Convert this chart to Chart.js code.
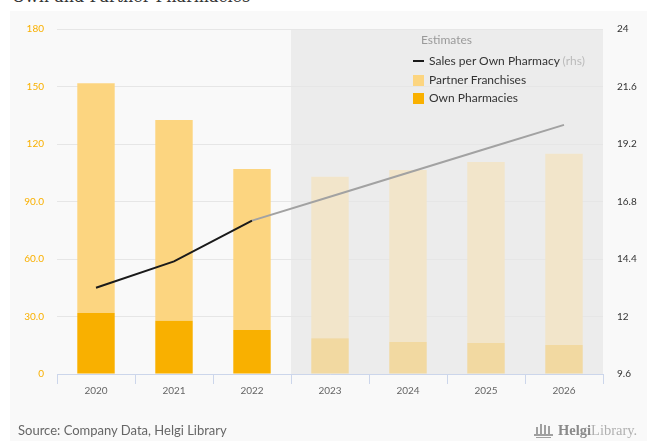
<!DOCTYPE html>
<html>
<head>
<meta charset="utf-8">
<script src="https://cdn.jsdelivr.net/npm/chart.js@4/dist/chart.umd.min.js"></script>
<style>
  html, body { margin: 0; padding: 0; background: #ffffff; }
  #page { position: relative; width: 647px; height: 441px; overflow: hidden; font-family: Lato, "Open Sans", sans-serif; }
  #panel { position: absolute; left: 10px; top: 11px; right: 0; bottom: 0; background: #f9f9f9; }
  #title { position: absolute; left: 12px; top: -11px; font: 16px "DejaVu Serif", serif; line-height: 16px; color: #333; white-space: nowrap; }
  #chart { position: absolute; left: 0; top: 0; }
  .lg { position: absolute; font-size: 12px; line-height: 14px; color: #333; white-space: nowrap; }
  .sw { position: absolute; width: 11px; height: 11px; }
  #source { position: absolute; left: 18px; top: 423px; font-size: 13px; line-height: 15px; color: #666; }
  #logo { position: absolute; left: 558px; top: 422px; font: 14.5px "Liberation Serif", serif; line-height: 16px; color: #8a8a8a; white-space: nowrap; }
  #logo b { font-weight: bold; }
  #logo span { color: #b0b0b0; }
  .ic { position: absolute; background: #a0a0a0; }
</style>
</head>
<body>
<div id="page">
  <div id="panel"></div>
  <div id="title">Own and Partner Pharmacies</div>
  <canvas id="chart" width="647" height="441"></canvas>
  <div class="lg" style="left:421px; top:33px; color:#9a9a9a;">Estimates</div>
  <div style="position:absolute; left:413px; top:60px; width:11px; height:2px; background:#1a1a1a;"></div>
  <div class="lg" style="left:429px; top:54px;" id="lg0"></div>
  <div class="sw" style="left:413px; top:75px; background:#fcd580;"></div>
  <div class="lg" style="left:429px; top:73px;" id="lg1"></div>
  <div class="sw" style="left:413px; top:93px; background:#f9b000;"></div>
  <div class="lg" style="left:429px; top:91px;" id="lg2"></div>
  <div id="source">Source: Company Data, Helgi Library</div>
  <!-- small library emblem next to the wordmark -->
  <div class="ic" style="left:536px; top:427px; width:2px; height:7px;"></div>
  <div class="ic" style="left:540px; top:424px; width:2px; height:10px;"></div>
  <div class="ic" style="left:544px; top:425px; width:2px; height:9px;"></div>
  <div class="ic" style="left:548px; top:426px; width:2px; height:8px;"></div>
  <div class="ic" style="left:534px; top:434px; width:19px; height:2px;"></div>
  <div class="ic" style="left:536px; top:437px; width:15px; height:1px;"></div>
  <div id="logo"><b>Helgi</b><span>Library.</span></div>
</div>
<script>
// Categories and series
const years = ['2020', '2021', '2022', '2023', '2024', '2025', '2026'];
const ownPharmacies = [31.8, 27.8, 23.0, 18.6, 16.7, 16.2, 15.1];
const partnerFranchises = [119.9, 104.7, 83.9, 84.3, 89.7, 94.4, 99.8];
const salesPerOwnPharmacy = [13.2, 14.3, 16.0, 17.0, 18.0, 19.0, 20.0];
const firstEstimate = 3; // index of the first forecast year

// Axis tick labels
const leftTicks = ['0', '30.0', '60.0', '90.0', '120', '150', '180'];
const rightTicks = ['9.6', '12', '14.4', '16.8', '19.2', '21.6', '24'];

const seriesNames = ['Sales per Own Pharmacy', 'Partner Franchises', 'Own Pharmacies'];
document.getElementById('lg0').innerHTML = seriesNames[0] + ' <span style="color:#bbb">(rhs)</span>';
document.getElementById('lg1').textContent = seriesNames[1];
document.getElementById('lg2').textContent = seriesNames[2];

const isEst = i => i >= firstEstimate;

// Grey band behind the forecast years
const estimateBand = {
  id: 'estimateBand',
  beforeDraw(chart) {
    const x = chart.scales.x, a = chart.chartArea, ctx = chart.ctx;
    const step = x.getPixelForValue(1) - x.getPixelForValue(0);
    const left = x.getPixelForValue(firstEstimate) - step / 2;
    ctx.save();
    ctx.fillStyle = '#ececec';
    ctx.fillRect(left, a.top, a.right - left, a.bottom - a.top);
    ctx.restore();
  }
};

new Chart(document.getElementById('chart'), {
  data: {
    labels: years,
    datasets: [
      {
        type: 'bar', label: seriesNames[2], data: ownPharmacies, yAxisID: 'y', order: 1,
        backgroundColor: years.map((_, i) => isEst(i) ? '#f2d9a1' : '#f9b000'),
        barPercentage: 0.6, categoryPercentage: 0.8
      },
      {
        type: 'bar', label: seriesNames[1], data: partnerFranchises, yAxisID: 'y', order: 1,
        backgroundColor: years.map((_, i) => isEst(i) ? '#f2e5ca' : '#fcd580'),
        barPercentage: 0.6, categoryPercentage: 0.8
      },
      {
        type: 'line', label: seriesNames[0], data: salesPerOwnPharmacy, yAxisID: 'y1', order: 0,
        borderColor: '#1a1a1a', borderWidth: 2, pointRadius: 0, tension: 0,
        segment: { borderColor: c => isEst(c.p1DataIndex) ? '#a2a2a2' : '#1a1a1a' }
      }
    ]
  },
  options: {
    responsive: false,
    animation: false,
    layout: { padding: { top: 29, left: 0, right: 0, bottom: 0 } },
    plugins: { legend: { display: false }, tooltip: { enabled: false } },
    scales: {
      x: {
        stacked: true,
        afterFit(s) { s.height = 67; },
        grid: { display: true, drawOnChartArea: false, drawTicks: true, tickLength: 10, color: '#ccd6eb', offset: true },
        border: { display: true, color: '#ccd6eb' },
        ticks: { color: '#666', font: { family: 'Lato', size: 10 }, padding: 1, maxRotation: 0 }
      },
      y: {
        position: 'left', stacked: true, min: 0, max: 180,
        afterFit(s) { s.width = 57; },
        grid: { color: '#e6e6e6', drawTicks: false },
        border: { display: false },
        ticks: { count: 7, padding: 13, color: '#f9b000', font: { family: 'Lato', size: 10 },
                 callback: (v, i) => leftTicks[i] }
      },
      y1: {
        position: 'right', min: 9.6, max: 24,
        afterFit(s) { s.width = 44; },
        grid: { display: false, drawTicks: false },
        border: { display: false },
        ticks: { count: 7, padding: 14, color: '#333', font: { family: 'Lato', size: 10 },
                 callback: (v, i) => rightTicks[i] }
      }
    }
  },
  plugins: [estimateBand]
});
</script>
</body>
</html>
